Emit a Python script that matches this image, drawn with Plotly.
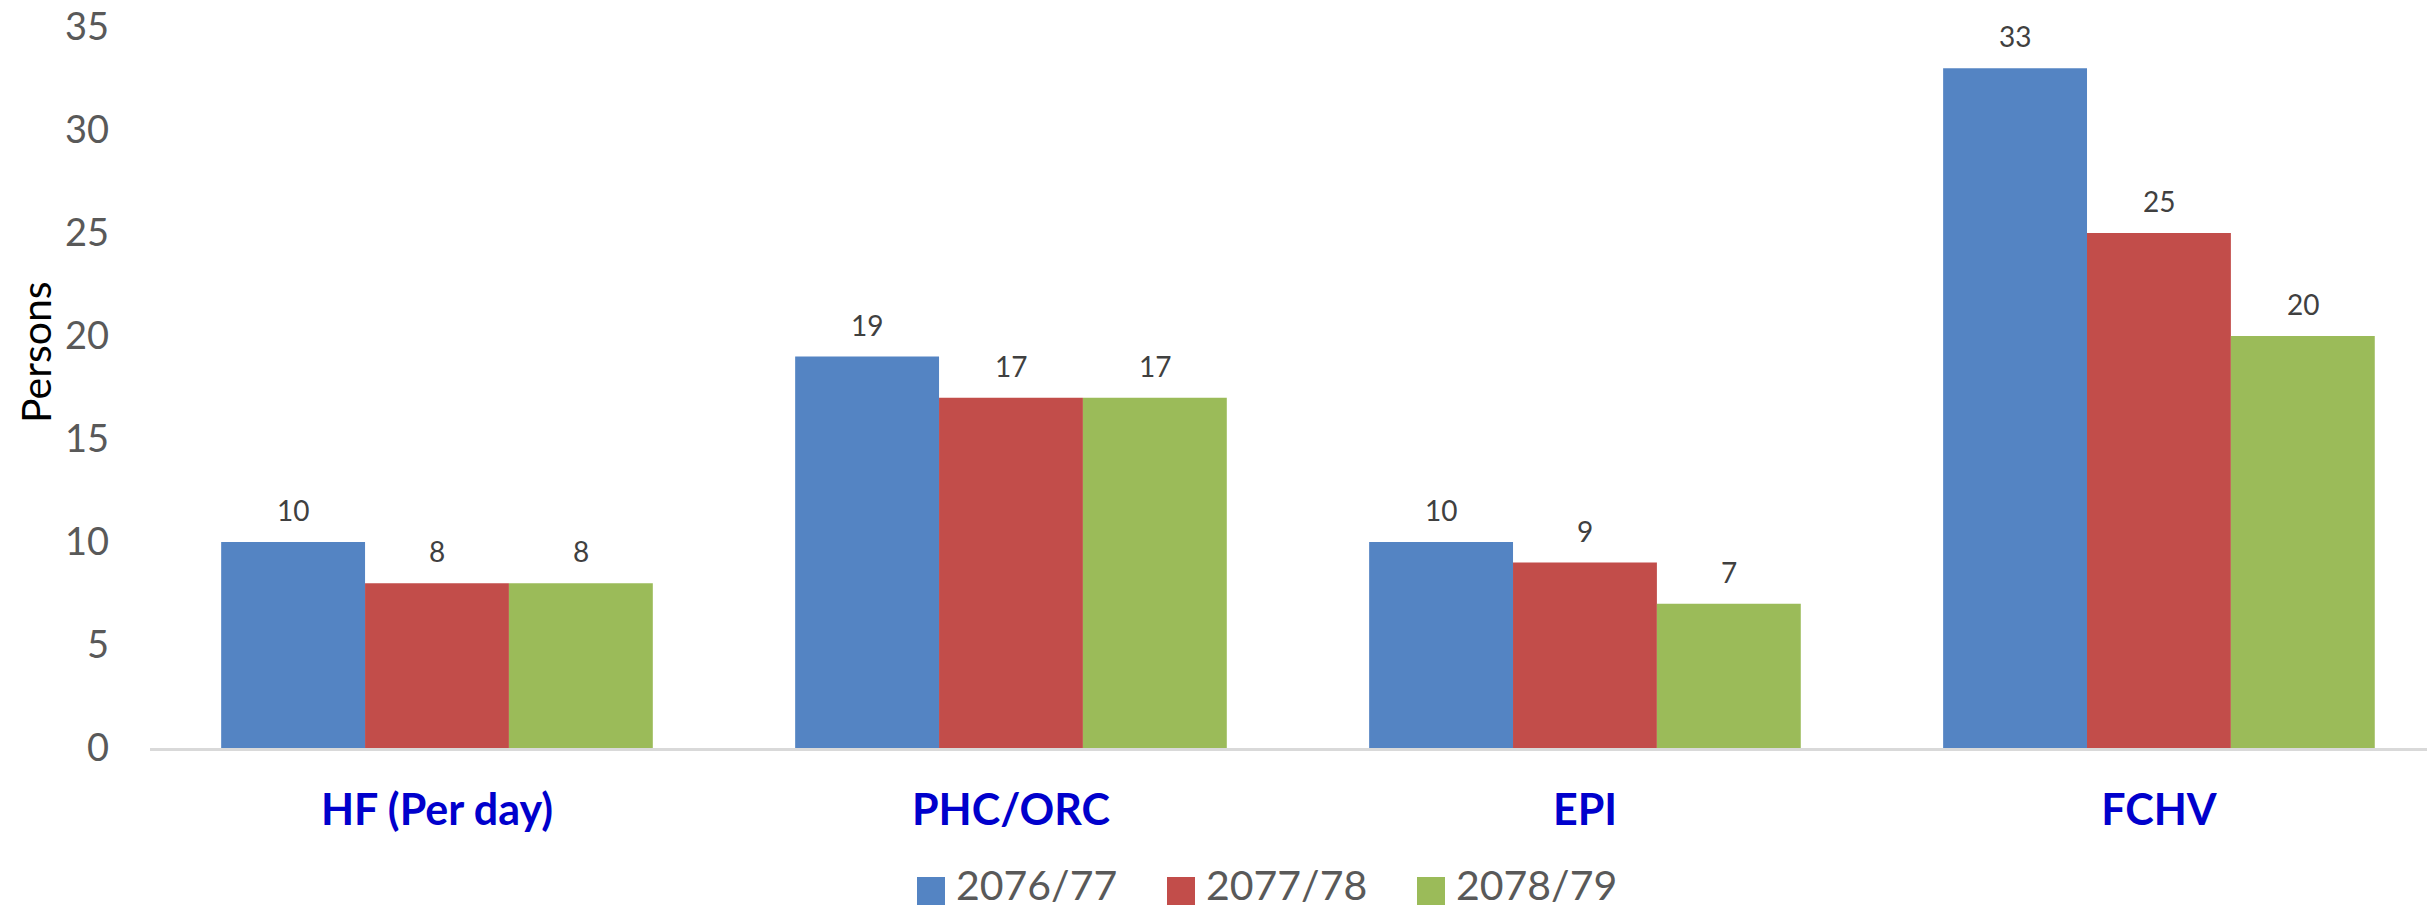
import plotly.graph_objects as go

categories = ["HF (Per day)", "PHC/ORC", "EPI", "FCHV"]
series_names = ["2076/77", "2077/78", "2078/79"]
values_2076 = [10, 19, 10, 33]
values_2077 = [8, 17, 9, 25]
values_2078 = [8, 17, 7, 20]
series_values = [values_2076, values_2077, values_2078]
colors = ["#5484C3", "#C24D4A", "#9BBB59"]

W, H = 2427, 911
ML, MR, MT, MB = 150, 0, 27, 163
PW, PH = W - ML - MR, H - MT - MB
X_RANGE = [-0.5, 3.467]
BARGAP = 0.248
cat_px = PW / (X_RANGE[1] - X_RANGE[0])
bar_px = cat_px * (1 - BARGAP) / len(series_names)


def px(x):
    return (x - ML) / PW


def py(y):
    return (H - MB - y) / PH


fig = go.Figure()
annotations = []
for i, (name, vals, col) in enumerate(zip(series_names, series_values, colors)):
    fig.add_trace(go.Bar(
        x=categories, y=vals, name=name,
        marker=dict(color=col, line=dict(width=0)),
        showlegend=False,
    ))
    for c, v in zip(categories, vals):
        annotations.append(dict(
            x=c, y=v, xref="x", yref="y", text=str(v), showarrow=False,
            xshift=(i - (len(series_names) - 1) / 2) * bar_px, yshift=13,
            xanchor="center", yanchor="bottom",
            font=dict(family="Lato", size=28, color="#404040"),
        ))

fig.update_layout(
    width=W, height=H,
    margin=dict(l=ML, r=MR, t=MT, b=MB),
    paper_bgcolor="white", plot_bgcolor="white",
    barmode="group", bargap=BARGAP, bargroupgap=0,
    xaxis=dict(
        range=X_RANGE, showline=True, linecolor="#D9D9D9", linewidth=3,
        showgrid=False, zeroline=False, ticks="",
        tickfont=dict(family="Lato", size=43, color="#0000CC", weight="bold"),
        ticklabelstandoff=22,
    ),
    yaxis=dict(
        range=[0, 35], dtick=5, showgrid=False, zeroline=False, showline=False,
        ticks="", tickfont=dict(family="Lato", size=38, color="#595959"),
        ticklabelstandoff=40,
    ),
)

annotations.append(dict(
    text="Persons", textangle=-90, xref="paper", yref="paper",
    x=px(35), y=py(352), xanchor="center", yanchor="middle", showarrow=False,
    font=dict(family="Lato", size=41, color="#000000"),
))
shapes = []
sq_x = [917, 1167, 1417]
for name, col, sx in zip(series_names, colors, sq_x):
    shapes.append(dict(
        type="rect", xref="paper", yref="paper",
        x0=px(sx), x1=px(sx + 28), y0=py(905), y1=py(877),
        fillcolor=col, line=dict(width=0),
    ))
    annotations.append(dict(
        text=name, xref="paper", yref="paper",
        x=px(sx + 38), y=py(910), xanchor="left", yanchor="bottom",
        borderpad=0,
        showarrow=False, font=dict(family="Lato", size=41, color="#595959"),
    ))
fig.update_layout(annotations=annotations, shapes=shapes)

fig.write_html("out.html", config={"displayModeBar": False})

with open("out.html", "r", encoding="utf-8") as f:
    html = f.read()
html = html.replace("<body>", '<body style="margin:0;padding:0;overflow:hidden">', 1)
with open("out.html", "w", encoding="utf-8") as f:
    f.write(html)
